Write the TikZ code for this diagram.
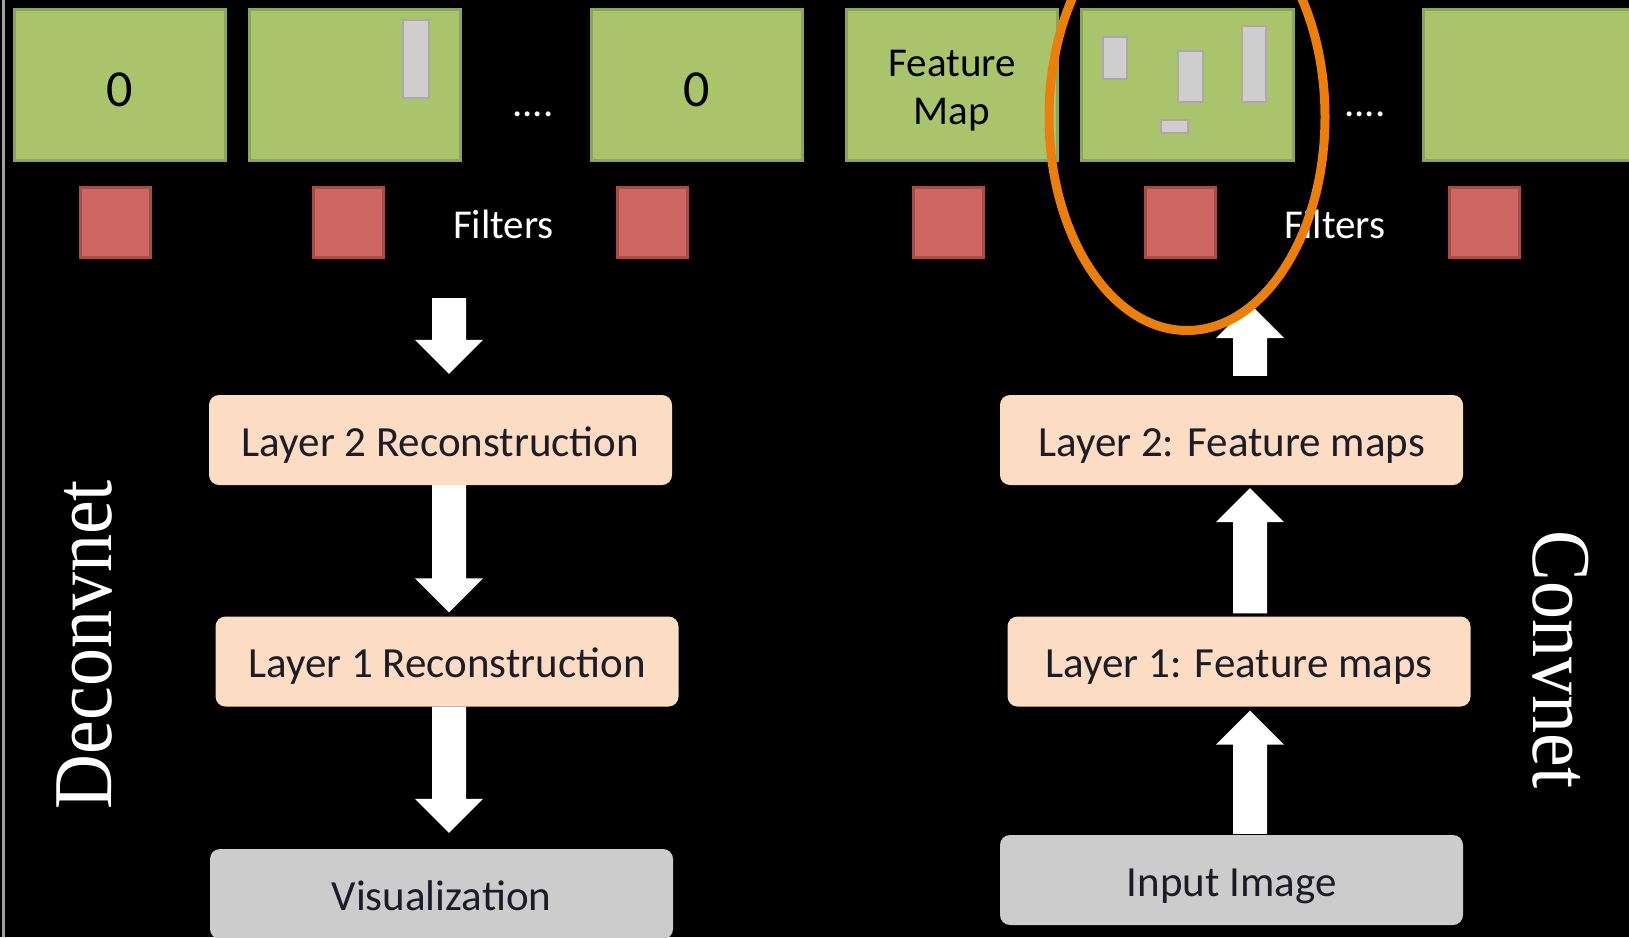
\documentclass[tikz,border=0pt]{standalone}
\usepackage{graphicx}
\usepackage{fontspec}
\setmainfont{Liberation Serif}
\newfontfamily\carl{Carlito}
\usetikzlibrary{calc}

\definecolor{mapfill}{HTML}{A9C46B}
\definecolor{mapedge}{HTML}{8CA659}
\definecolor{filtfill}{HTML}{CE6661}
\definecolor{filtedge}{HTML}{A64E4A}
\definecolor{actfill}{HTML}{CECECE}
\definecolor{actedge}{HTML}{A9A9A9}
\definecolor{peach}{HTML}{FCDDC3}
\definecolor{stagegray}{HTML}{CCCCCC}
\definecolor{ink}{HTML}{1C1C26}
\definecolor{hilite}{HTML}{EB7F0A}
\definecolor{rim}{HTML}{A0A0A0}

\begin{document}
\begin{tikzpicture}[x=1pt,y=-1pt,
  fmap/.style={draw=mapedge, fill=mapfill, line width=3pt,
    minimum width=211.5pt, minimum height=151pt, inner sep=0pt,
    font=\carl\fontsize{52}{60}\selectfont, text=black,
    text height=43pt, text depth=0pt},
  fmtext/.style={anchor=base, inner sep=0pt, text=black,
    font=\carl\fontsize{41}{48}\selectfont},
  filt/.style={draw=filtedge, fill=filtfill, line width=3pt,
    minimum size=70pt, inner sep=0pt},
  act/.style={fill=actfill, draw=actedge, line width=1.5pt},
  stage/.style={rounded corners=10pt, minimum width=463pt,
    minimum height=90pt, inner sep=0pt,
    font=\carl\fontsize{43}{50}\selectfont, text=ink,
    text height=32pt, text depth=0pt},
  recon/.style={stage, fill=peach},
  endpt/.style={stage, fill=stagegray},
  note/.style={text=white, font=\carl\fontsize{41}{48}\selectfont,
    anchor=base, inner sep=0pt},
  side/.style={text=white, font=\fontsize{76}{80}\selectfont,
    anchor=base, inner sep=0pt},
  % vertical block arrow: shaft 34pt wide, head 68pt wide and 34pt long
  blk/.style={to path={let \p1=(\tikztostart), \p2=(\tikztotarget),
      \n1={sign(\y2-\y1)} in
      (\x1-17pt,\y1) -- (\x1-17pt,{\y2-\n1*34pt}) -- (\x1-34pt,{\y2-\n1*34pt})
      -- (\x1,\y2) -- (\x1+34pt,{\y2-\n1*34pt}) -- (\x1+17pt,{\y2-\n1*34pt})
      -- (\x1+17pt,\y1) -- cycle}},
]
\useasboundingbox (0,0) rectangle (1629,937);
\fill[black] (0,0) rectangle (1629,937);
\clip (0,0) rectangle (1629,937);
\draw[rim, line width=2.5pt] (3.5,0) -- (3.5,937);

% feature maps
\node[fmap] (m1) at (120,85) {0};
\node[fmap] (m2) at (355,85) {};
\node[fmap] (m3) at (697,85) {0};
\node[fmap] (m4) at (952,85) {};
\node[fmap] (m5) at (1187.5,85) {};
\node[fmap] (m6) at (1529,85) {};

% activations inside the maps
\draw[act] (403,20) rectangle (429,98);
\draw[act] (1103,37) rectangle (1127,79);
\draw[act] (1178,51) rectangle (1203,102);
\draw[act] (1242,26) rectangle (1266,102);
\draw[act] (1161,120) rectangle (1188,133);

\node[fmtext] (fmA) at (952,76) {Feature};
\node[fmtext] (fmB) at (952,124) {Map};

\node[note] (dotsL) at (533,116) {....};
\node[note] (dotsR) at (1365,116) {....};

% filters
\node[filt] (f1) at (115.5,222.5) {};
\node[filt] (f2) at (348.5,222.5) {};
\node[filt] (f3) at (652,222.5) {};
\node[filt] (f4) at (948,222.5) {};
\node[filt] (f5) at (1180.5,222.5) {};
\node[filt] (f6) at (1484,222.5) {};
\node[note] (filtL) at (503.5,238) {Filters};
\node[note] (filtR) at (1335,238) {Filters};

% stages
\node[recon] (l2r) at (440.5,440) {Layer 2 Reconstruction};
\node[recon] (l1r) at (447,661.5) {Layer 1 Reconstruction};
\node[endpt] (vis) at (441.5,894) {Visualization};
\node[recon] (l2f) at (1231.5,440) {Layer 2: Feature maps};
\node[recon] (l1f) at (1239,661.5) {Layer 1: Feature maps};
\node[endpt] (inp) at (1231.5,880) {Input Image};

% arrows
\coordinate (dx) at (449,0);
\coordinate (ux) at (1250,0);
\coordinate (dtop) at (449,298);
\coordinate (utop) at (1250,304);

\fill[white] (dtop) to[blk] ($(l2r.north -| dx)+(0,-21)$);
\fill[white] (l2r.south -| dx) to[blk] ($(l1r.north -| dx)+(0,-4)$);
\fill[white] (l1r.south -| dx) to[blk] ($(vis.north -| dx)+(0,-16)$);
\fill[white] ($(l2f.north -| ux)+(0,-19)$) to[blk] (utop);
\fill[white] ($(l1f.north -| ux)+(0,-3)$) to[blk] ($(l2f.south -| ux)+(0,3)$);
\fill[white] ($(inp.north -| ux)+(0,-1)$) to[blk] ($(l1f.south -| ux)+(0,4)$);

% side labels
\node[side, rotate=90] (dec) at (111,644.5) {\scalebox{1}[1.1]{Deconvnet}};
\node[side, rotate=-90] (conv) at (1533,659.5) {\scalebox{1}[1.1]{Convnet}};

% highlighted map and filter
\draw[hilite, line width=9pt] (1187,117) ellipse [x radius=138pt, y radius=213.5pt];
\end{tikzpicture}
\end{document}
